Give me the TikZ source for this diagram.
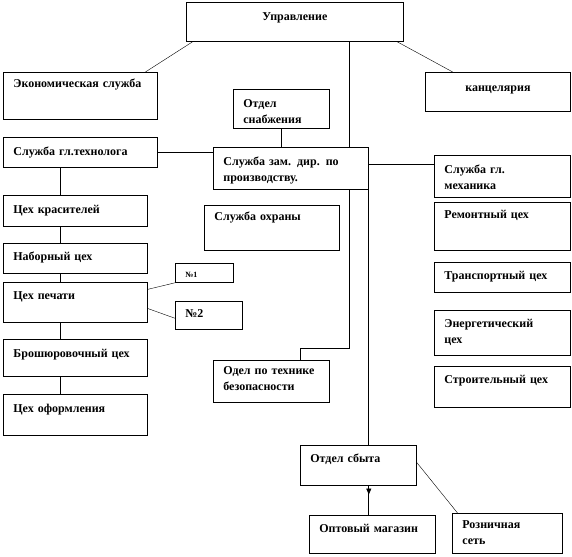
\documentclass[tikz,border=0pt]{standalone}
\usepackage{fontspec}
\setmainfont{Liberation Serif}
\usetikzlibrary{calc,arrows.meta,decorations.markings}

% baseline of the first line, measured from the top of a box
\def\bxth{16}
% \orgbox[options]{name}{x1}{y1}{x2}{y2}{text}
\newcommand{\orgbox}[7][]{%
  \node[orgbox,#1,text width={(#5-#3)*1pt-20pt},text height=\bxth pt,
        text depth={(#6-#4-\bxth)*1pt}] (#2) at (#3,#4) {#7};}

\tikzset{
  orgbox/.style={draw, line width=0.8pt, anchor=north west, inner xsep=10pt,
    inner ysep=0pt, align=left, font=\fontsize{12}{16.5}\selectfont\bfseries},
  bline/.code={\def\bxth{#1}},
  link/.style={line width=0.8pt},
  thinlink/.style={line width=0.4pt},
}

\begin{document}
\begin{tikzpicture}[x=1pt,y=-1pt]
\useasboundingbox (0,0) rectangle (572,556);

% top level
\orgbox[align=center,bline=18]{upr}{186}{2}{403}{41}{Управление}
\orgbox[bline=15]{econ}{3}{72}{157}{119}{Экономическая служба}
\orgbox[align=center,bline=19]{kanc}{425}{72}{570}{111}{канцелярия}

% middle column
\orgbox[bline=18]{snab}{233}{89}{329}{128}{Отдел\\снабжения}
\orgbox[bline=18]{zam}{213}{147}{368}{189}{Служба зам. дир. по\\производству.}
\orgbox[bline=15]{ohr}{204}{205}{339}{250}{Служба охраны}
\orgbox[bline=14]{tb}{213}{360}{329}{402}{Одел по технике\\безопасности}
\orgbox[bline=17]{sbyt}{300}{445}{416}{485}{Отдел сбыта}
\orgbox[bline=17]{opt}{309}{515}{435}{553}{Оптовый магазин}
\orgbox[bline=15]{rozn}{452}{513}{562}{553}{Розничная\\сеть}

% left column
\orgbox[bline=18]{tech}{3}{137}{157}{167}{Служба гл.технолога}
\orgbox[bline=18]{kras}{3}{195}{147}{226}{Цех красителей}
\orgbox[bline=17]{nab}{3}{243}{147}{273}{Наборный цех}
\orgbox[bline=17]{pech}{3}{282}{147}{322}{Цех печати}
\orgbox[bline=18]{brosh}{3}{339}{147}{376}{Брошюровочный цех}
\orgbox[bline=18]{oform}{3}{394}{147}{435}{Цех оформления}
\orgbox[bline=14,font=\fontsize{8}{10}\selectfont\bfseries]{n1}{175}{263}{233}{282}{№1}
\orgbox[bline=16]{n2}{175}{301}{242}{329}{№2}

% right column
\orgbox[bline=18]{mech}{434}{155}{570}{197}{Служба гл.\\механика}
\orgbox[bline=16]{rem}{434}{202}{570}{250}{Ремонтный цех}
\orgbox[bline=17]{trans}{434}{262}{570}{292}{Транспортный цех}
\orgbox[bline=17]{energ}{434}{310}{570}{355}{Энергетический\\цех}
\orgbox[bline=17]{stroi}{434}{366}{570}{407}{Строительный цех}

\coordinate (spine) at (349,0);
\coordinate (lspine) at (60,0);
\coordinate (elbow) at (300,348);

% connectors
\draw[thinlink] ($(upr.south west)!0.03!(upr.south east)$) -- ($(econ.north west)!0.92!(econ.north east)$);
\draw[thinlink] ($(upr.south west)!0.97!(upr.south east)$) -- ($(kanc.north west)!0.19!(kanc.north east)$);
\draw[link] (upr.south -| spine) -- (zam.north -| spine);
\draw[link] (snab.south) -- (snab.south |- zam.north);
\draw[link] (tech.east) -- (tech.east -| zam.west);
\draw[link] ($(zam.north east)!0.4!(zam.south east)$) coordinate (zr) -- (zr -| mech.west);
\draw[link] (zam.south -| spine) -- (spine |- elbow) -- (elbow) -- (elbow |- tb.north);
\draw[link] (zam.south east) -- (zam.south east |- sbyt.north);
\draw[link, postaction={decorate, decoration={markings,
    mark=at position 0.3 with {\arrow{Triangle[width=5pt,length=6pt]}}}}]
  (sbyt.south -| zam.east) -- (opt.north -| zam.east);
\draw[thinlink] ($(sbyt.north east)!0.43!(sbyt.south east)$) -- ($(rozn.north west)!0.05!(rozn.north east)$);
\foreach \a/\b in {tech/kras, kras/nab, nab/pech, pech/brosh, brosh/oform}
  \draw[link] (\a.south -| lspine) -- (\b.north -| lspine);
\draw[thinlink] ($(pech.north east)!0.18!(pech.south east)$) -- (n1.south west);
\draw[thinlink] ($(pech.north east)!0.65!(pech.south east)$) -- ($(n2.north west)!0.6!(n2.south west)$);
\end{tikzpicture}
\end{document}
